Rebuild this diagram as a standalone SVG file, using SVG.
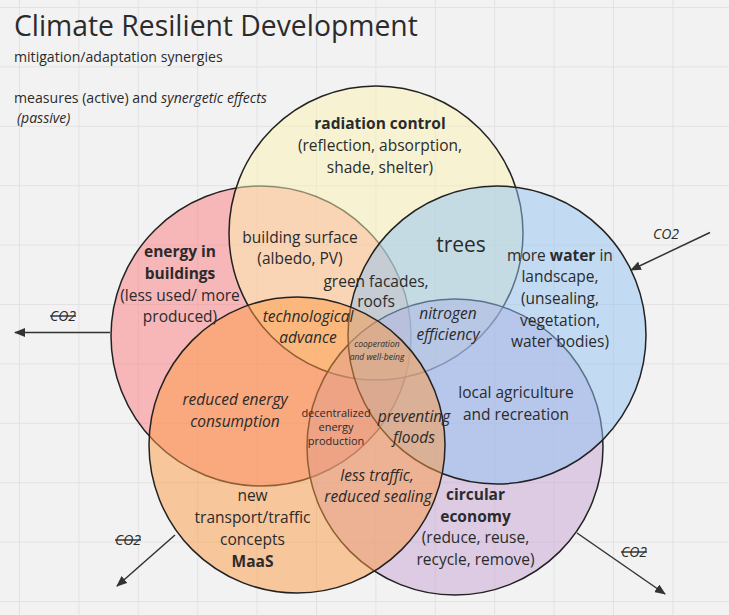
<svg xmlns="http://www.w3.org/2000/svg" width="729" height="615" viewBox="0 0 729 615">
<defs>
<pattern id="grid" patternUnits="userSpaceOnUse" x="19" y="7" width="59.4" height="59.4">
<path d="M0.5 0 V59.4 M0 0.5 H59.4" stroke="#e2e2e2" stroke-width="1" fill="none"/>
</pattern>
<marker id="ah" markerUnits="userSpaceOnUse" markerWidth="11" markerHeight="9" refX="10" refY="4.5" orient="auto">
<path d="M0,0 L11,4.5 L0,9 Z" fill="#333"/>
</marker>
</defs>
<style>
.c{stroke:#222;stroke-width:1.5;fill-opacity:.5}
text{font-family:"Open Sans","Noto Sans",sans-serif;fill:#2b2b2b}
.m{font-size:15.5px;text-anchor:middle}
.b{font-weight:bold}
.i{font-style:italic}
.co{font-size:14px;font-style:italic}
.st{text-decoration:line-through}
.arr{stroke:#333;stroke-width:1.5;fill:none;marker-end:url(#ah)}
</style>
<rect width="729" height="615" fill="#f2f2f2"/>
<rect width="729" height="615" fill="url(#grid)"/>

<g id="circle-energy"><circle class="c" cx="261" cy="336" r="150" fill="#fc7a7e"/></g>
<g id="circle-radiation"><circle class="c" cx="376" cy="233" r="147" fill="#fcf4b2"/></g>
<g id="circle-circular"><circle class="c" cx="455" cy="447" r="148" fill="#c6a4d2"/></g>
<g id="circle-water"><circle class="c" cx="497" cy="335" r="149" fill="#92c4f4"/></g>
<g id="circle-transport"><circle class="c" cx="297" cy="445" r="148" fill="#fe9a44"/></g>

<g id="connectors">
<path class="arr" d="M110,332.5 L15,332.5"/>
<path class="arr" d="M710,232.5 L631,270"/>
<path class="arr" d="M175,535 L117,586"/>
<path class="arr" d="M577,533 L665,594"/>
</g>

<g id="title">
<text x="14" y="36" style="font-size:28.3px">Climate Resilient Development</text>
<text x="14" y="62" style="font-size:14.1px">mitigation/adaptation synergies</text>
<text x="14" y="103" style="font-size:14.1px">measures (active) and <tspan class="i">synergetic effects</tspan></text>
<text x="17" y="123" style="font-size:14.1px" class="i">(passive)</text>
</g>

<g id="label-radiation" class="m">
<text x="380" y="128.5" class="m b">radiation control</text>
<text x="380" y="150.5" class="m">(reflection, absorption,</text>
<text x="380" y="172.5" class="m">shade, shelter)</text>
</g>
<g id="label-energy">
<text x="180" y="257" class="m b">energy in</text>
<text x="180" y="279" class="m b">buildings</text>
<text x="180" y="301" class="m">(less used/ more</text>
<text x="180" y="322" class="m">produced)</text>
</g>
<g id="label-building-surface">
<text x="300" y="243" class="m">building surface</text>
<text x="300" y="264" class="m">(albedo, PV)</text>
</g>
<g id="label-green-facades">
<text x="376" y="287" class="m">green facades,</text>
<text x="376" y="307" class="m">roofs</text>
</g>
<g id="label-trees">
<text x="461" y="252" class="m" style="font-size:21px">trees</text>
</g>
<g id="label-water">
<text x="560" y="261" class="m">more <tspan class="b">water</tspan> in</text>
<text x="560" y="282" class="m">landscape,</text>
<text x="560" y="304" class="m">(unsealing,</text>
<text x="560" y="326" class="m">vegetation,</text>
<text x="560" y="347" class="m">water bodies)</text>
</g>
<g id="label-technological">
<text x="308" y="322" class="m i">technological</text>
<text x="308" y="343" class="m i">advance</text>
</g>
<g id="label-nitrogen">
<text x="448" y="319" class="m i">nitrogen</text>
<text x="448" y="340" class="m i">efficiency</text>
</g>
<g id="label-cooperation">
<text x="377" y="347" class="m i" style="font-size:8.5px">cooperation</text>
<text x="377" y="360" class="m i" style="font-size:8.5px">and well-being</text>
</g>
<g id="label-reduced-energy">
<text x="235" y="405" class="m i">reduced energy</text>
<text x="235" y="427" class="m i">consumption</text>
</g>
<g id="label-decentralized">
<text x="336" y="417" class="m" style="font-size:11px">decentralized</text>
<text x="336" y="431" class="m" style="font-size:11px">energy</text>
<text x="336" y="445" class="m" style="font-size:11px">production</text>
</g>
<g id="label-preventing-floods">
<text x="414" y="422" class="m i">preventing</text>
<text x="414" y="443" class="m i">floods</text>
</g>
<g id="label-local-agriculture">
<text x="516" y="398" class="m">local agriculture</text>
<text x="516" y="420" class="m">and recreation</text>
</g>
<g id="label-less-traffic">
<text x="377" y="481" class="m i">less traffic,</text>
<text x="378" y="502" class="m i">reduced sealing</text>
</g>
<g id="label-circular">
<text x="475.5" y="500" class="m b">circular</text>
<text x="475.5" y="522" class="m b">economy</text>
<text x="475.5" y="543" class="m">(reduce, reuse,</text>
<text x="475.5" y="565" class="m">recycle, remove)</text>
</g>
<g id="label-transport">
<text x="252.5" y="501" class="m">new</text>
<text x="252.5" y="523" class="m">transport/traffic</text>
<text x="252.5" y="545" class="m">concepts</text>
<text x="252.5" y="567" class="m b">MaaS</text>
</g>
<g id="co2-labels">
<text x="50" y="321" class="co st">CO2</text>
<text x="653" y="239" class="co">CO2</text>
<text x="115" y="545" class="co st">CO2</text>
<text x="621" y="557" class="co st">CO2</text>
</g>
</svg>
